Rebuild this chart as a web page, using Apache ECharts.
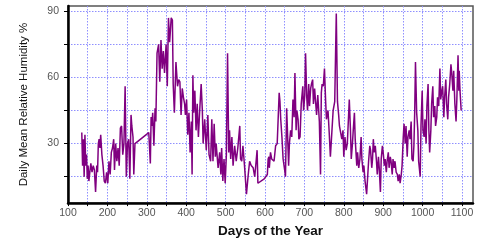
<!DOCTYPE html>
<html><head><meta charset="utf-8">
<script src="https://cdn.jsdelivr.net/npm/echarts@6/dist/echarts.min.js"></script>
<style>html,body{margin:0;padding:0;background:#fff}#c{width:480px;height:243px}</style>
</head><body><div id="c"></div>
<script>
const days = [135,137,139,141,143,145,147,149,151,153,156,158,161,164,167,170,173,175,177,179,181,183,186,189,192,195,198,201,204,207,210,213,216,218,221,224,227,230,233,236,239,242,245,248,251,254,257,260,262,265,267,270,
305,309,311,313,315,318,321,323,326,330,333,336,339,342,345,349,352,355,358,362,365,367,370,374,378,381,384,387,390,393,396,398,401,404,407,410,413,415,
417,419,422,425,428,431,434,438,441,443,447,451,455,458,462,465,468,471,474,476,481,485,488,490,493,496,499,502,505,508,510,513,516,519,523,527,531,536,538,541,544,548,553,557,561,565,570,574,578,580,582,
598,606,608,610,611,614,617,623,627,631,636,638,640,643,646,650,652,655,657,660,662,665,668,671,674,676,679,681,684,686,689,692,696,698,701,703,706,708,711,713,716,718,721,723,726,728,731,734,738,741,743,745,748,751,754,756,760,763,766,770,773,777,781,784,787,789,
793,795,798,800,803,806,809,811,814,817,819,822,824,827,829,833,835,838,841,844,846,849,851,854,856,858,861,863,866,868,871,873,875,877,880,883,885,888,890,893,895,898,900,903,905,908,910,913,915,918,920,923,925,928,930,933,936,938,941,943,946,948,951,953,956,958,961,963,966,968,971,973,976,978,980,982,985,988,990,
994,996,999,1001,1004,1006,1009,1011,1014,1016,1018,1021,1023,1026,1028,1031,1033,1036,1038,1041,1044,1046,1049,1051,1054,1056,1059,1061,1064,1066,1069,1072,1074,1077,1079,1082,1085,1087,1090,1092,1093,1095,1098];
const humidity = [35,20,32,15,34,20,25,14,20,13,18,21,17,20,18,8,20,17,30,32,28,34,25,20,13,12,17,12,22,16,26,28,32,18,30,22,28,20,37,38,25,30,56,15,30,32,14,43,38,33,16,30,
35,21,42,38,44,29,46,40,71,75,58,77,64,72,62,75,56,87,76,87,86,57,44,67,56,59,58,43,55,51,48,43,50,34,44,26,40,16,
61,44,54,36,48,33,44,57,45,30,41,27,43,25,22,41,22,39,24,30,19,26,16,28,13,23,12,25,71,26,36,23,33,20,29,22,28,38,23,22,29,20,7,15,22,20,19,15,23,27,12,
14,16,23,24,19,26,23,22,29,30,53,49,41,33,23,18,15,46,36,20,30,36,33,50,42,62,36,45,41,32,33,48,56,45,52,71,51,45,57,47,55,57,59,48,55,50,43,52,40,16,53,57,56,64,49,41,45,35,24,36,45,49,89,49,43,38,
38,32,36,24,33,27,30,38,50,36,23,30,36,44,32,20,26,19,23,33,23,17,20,13,10,7,16,22,29,27,19,23,32,26,29,22,16,24,19,8,23,29,26,20,23,17,22,26,19,24,22,16,23,19,22,17,16,13,16,12,16,20,33,39,30,38,24,33,36,32,40,23,22,29,44,67,44,36,22,
15,38,54,36,33,41,30,47,57,36,26,36,48,56,42,47,38,42,51,47,64,50,54,56,42,51,59,48,41,51,57,66,62,54,63,48,40,50,70,54,63,54,45];
const xTickValues = [100,150,200,250,300,350,400,450,500,550,600,650,700,750,800,850,900,950,1000,1050,1100];
const xLabelValues = [100,200,300,400,500,600,700,800,900,1000,1100];
const yTickValues = [15,30,45,60,75,90];
const yLabelValues = [30,60,90];

const font = 'Liberation Sans, Arial, sans-serif';
const gridLine = {show:true,lineStyle:{color:'#8f8fff',type:[1.5,1.5],width:1}};
const chart = echarts.init(document.getElementById('c'), null, {renderer:'canvas'});
chart.setOption({
  animation:false,
  backgroundColor:'#fff',
  grid:{left:68,right:7,top:6,bottom:36,show:true,borderColor:'#555',borderWidth:1.5,backgroundColor:'transparent'},
  xAxis:{type:'value',min:100,max:1128,interval:50,
    name:'Days of the Year',nameLocation:'middle',nameGap:20,
    nameTextStyle:{fontFamily:font,fontWeight:'bold',fontSize:13.5,color:'#111',verticalAlign:'top'},
    axisLine:{show:true,onZero:false,lineStyle:{color:'#000',width:2.5}},
    axisTick:{show:true,length:3,customValues:xTickValues,lineStyle:{color:'#000'}},
    axisLabel:{customValues:xLabelValues,color:'#555',fontSize:10.5,fontFamily:font,margin:5,
      formatter:v=>(v%100===0?String(v):'')},
    splitLine:gridLine
  },
  yAxis:{type:'value',min:3,max:92.4,minInterval:15,maxInterval:15,
    name:'Daily Mean Relative Humidity %',nameLocation:'middle',nameGap:38,
    nameTextStyle:{fontFamily:font,fontSize:11.5,color:'#111'},
    axisLine:{show:true,onZero:false,lineStyle:{color:'#000',width:2.5}},
    axisTick:{show:true,length:4,customValues:yTickValues,lineStyle:{color:'#000'}},
    axisLabel:{customValues:yLabelValues,color:'#555',fontSize:10.5,fontFamily:font,margin:9,
      formatter:v=>(v%30===0?String(v):'')},
    splitLine:gridLine
  },
  series:[{type:'line',data:days.map((d,i)=>[d,humidity[i]]),showSymbol:false,symbol:'none',
    lineStyle:{color:'#800080',width:1.5},clip:true}]
});
</script>
</body></html>
